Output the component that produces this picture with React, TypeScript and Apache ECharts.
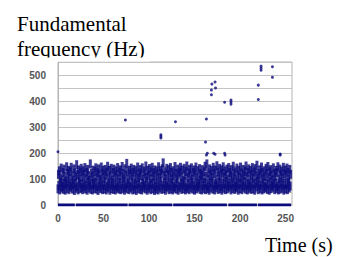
import React, { useEffect, useRef } from "react";
import * as echarts from "echarts";

const yAxisTitleLines = ["Fundamental", "frequency (Hz)"];
const xAxisTitle = "Time (s)";
const xMin = 0;
const xMax = 257;
const xInterval = 50;
const yMin = 0;
const yMax = 550;
const yInterval = 50;
const yLabelStep = 100;

// Dense voiced-pitch band (time s, F0 Hz)
const bandPoints: [number, number][] = [
  [0,62],[0.5,118],[1,75],[1.5,131],[2,58],[2.5,104],[3,88],[3.5,142],[4,66],[4.5,97],[5,71],[5.5,125],[6,60],[6.5,138],[7,84],[7.5,110],[8,57],[8.5,92],[9,79],[9.5,147],
  [10,64],[10.5,121],[11,90],[11.5,133],[12,59],[12.5,101],[13,73],[13.5,128],[14,68],[14.5,145],[15,82],[15.5,112],[16,61],[16.5,96],[17,77],[17.5,139],[18,56],[18.5,123],[19,86],[19.5,108],
  [20,65],[20.5,155],[21,72],[21.5,117],[22,58],[22.5,135],[23,91],[23.5,99],[24,63],[24.5,127],[25,80],[25.5,141],[26,67],[26.5,106],[27,59],[27.5,131],[28,85],[28.5,119],[29,70],[29.5,144],
  [30,62],[30.5,102],[31,76],[31.5,126],[32,57],[32.5,137],[33,89],[33.5,113],[34,66],[34.5,95],[35,74],[35.5,158],[36,60],[36.5,122],[37,83],[37.5,109],[38,58],[38.5,134],[39,78],[39.5,99],
  [40,64],[40.5,129],[41,87],[41.5,143],[42,61],[42.5,107],[43,72],[43.5,124],[44,56],[44.5,139],[45,81],[45.5,115],[46,69],[46.5,98],[47,63],[47.5,146],[48,86],[48.5,120],[49,59],[49.5,132],
  [50,75],[50.5,104],[51,62],[51.5,137],[52,90],[52.5,118],[53,58],[53.5,127],[54,71],[54.5,149],[55,66],[55.5,101],[56,84],[56.5,133],[57,57],[57.5,112],[58,77],[58.5,141],[59,63],[59.5,96],
  [60,88],[60.5,125],[61,60],[61.5,138],[62,73],[62.5,106],[63,58],[63.5,130],[64,82],[64.5,116],[65,65],[65.5,144],[66,70],[66.5,100],[67,61],[67.5,127],[68,86],[68.5,135],[69,59],[69.5,111],
  [70,76],[70.5,148],[71,64],[71.5,121],[72,91],[72.5,103],[73,57],[73.5,139],[74,68],[74.5,115],[75,80],[75.5,160],[76,62],[76.5,128],[77,85],[77.5,97],[78,59],[78.5,134],[79,72],[79.5,119],
  [80,66],[80.5,142],[81,89],[81.5,108],[82,58],[82.5,126],[83,74],[83.5,137],[84,61],[84.5,99],[85,83],[85.5,131],[86,56],[86.5,117],[87,78],[87.5,146],[88,64],[88.5,104],[89,87],[89.5,123],
  [90,60],[90.5,136],[91,71],[91.5,112],[92,58],[92.5,143],[93,84],[93.5,98],[94,67],[94.5,129],[95,76],[95.5,119],[96,62],[96.5,150],[97,90],[97.5,106],[98,57],[98.5,133],[99,73],[99.5,115],
  [100,65],[100.5,140],[101,82],[101.5,101],[102,59],[102.5,127],[103,79],[103.5,145],[104,63],[104.5,110],[105,88],[105.5,124],[106,56],[106.5,135],[107,70],[107.5,97],[108,61],[108.5,130],[109,85],[109.5,118],
  [110,58],[110.5,147],[111,74],[111.5,105],[112,66],[112.5,132],[113,91],[113.5,121],[114,60],[114.5,139],[115,77],[115.5,162],[116,63],[116.5,114],[117,86],[117.5,128],[118,57],[118.5,100],[119,72],[119.5,141],
  [120,68],[120.5,117],[121,83],[121.5,136],[122,59],[122.5,108],[123,75],[123.5,144],[124,62],[124.5,125],[125,89],[125.5,99],[126,58],[126.5,131],[127,71],[127.5,113],[128,65],[128.5,148],[129,80],[129.5,122],
  [130,61],[130.5,103],[131,87],[131.5,138],[132,57],[132.5,119],[133,73],[133.5,127],[134,67],[134.5,145],[135,84],[135.5,109],[136,60],[136.5,134],[137,76],[137.5,96],[138,63],[138.5,141],[139,90],[139.5,116],
  [140,58],[140.5,129],[141,70],[141.5,150],[142,64],[142.5,105],[143,82],[143.5,123],[144,59],[144.5,137],[145,77],[145.5,112],[146,66],[146.5,143],[147,88],[147.5,100],[148,61],[148.5,126],[149,74],[149.5,135],
  [150,57],[150.5,118],[151,85],[151.5,146],[152,62],[152.5,107],[153,72],[153.5,131],[154,68],[154.5,97],[155,81],[155.5,140],[156,60],[156.5,121],[157,91],[157.5,113],[158,58],[158.5,136],[159,75],[159.5,102],
  [160,64],[160.5,128],[161,86],[161.5,149],[162,59],[162.5,110],[163,78],[163.5,158],[164,63],[164.5,124],[165,70],[165.5,99],[166,57],[166.5,139],[167,84],[167.5,116],[168,66],[168.5,132],[169,89],[169.5,105],
  [170,61],[170.5,145],[171,73],[171.5,120],[172,58],[172.5,134],[173,82],[173.5,98],[174,67],[174.5,151],[175,76],[175.5,127],[176,60],[176.5,111],[177,87],[177.5,141],[178,63],[178.5,103],[179,71],[179.5,135],
  [180,57],[180.5,122],[181,85],[181.5,147],[182,65],[182.5,108],[183,79],[183.5,130],[184,59],[184.5,117],[185,90],[185.5,138],[186,62],[186.5,100],[187,74],[187.5,144],[188,68],[188.5,125],[189,83],[189.5,113],
  [190,58],[190.5,136],[191,77],[191.5,104],[192,64],[192.5,149],[193,88],[193.5,119],[194,60],[194.5,128],[195,72],[195.5,97],[196,66],[196.5,142],[197,84],[197.5,115],[198,57],[198.5,133],[199,79],[199.5,107],
  [200,63],[200.5,146],[201,86],[201.5,123],[202,59],[202.5,101],[203,74],[203.5,137],[204,68],[204.5,114],[205,91],[205.5,129],[206,61],[206.5,150],[207,76],[207.5,109],[208,58],[208.5,126],[209,82],[209.5,139],
  [210,65],[210.5,98],[211,73],[211.5,132],[212,60],[212.5,118],[213,87],[213.5,144],[214,62],[214.5,105],[215,78],[215.5,127],[216,57],[216.5,140],[217,84],[217.5,112],[218,69],[218.5,153],[219,90],[219.5,121],
  [220,59],[220.5,103],[221,75],[221.5,135],[222,64],[222.5,117],[223,81],[223.5,146],[224,58],[224.5,124],[225,88],[225.5,99],[226,62],[226.5,131],[227,71],[227.5,110],[228,66],[228.5,141],[229,85],[229.5,120],
  [230,60],[230.5,148],[231,77],[231.5,106],[232,57],[232.5,128],[233,89],[233.5,136],[234,63],[234.5,115],[235,74],[235.5,97],[236,68],[236.5,143],[237,82],[237.5,122],[238,59],[238.5,109],[239,86],[239.5,133],
  [240,64],[240.5,125],[241,72],[241.5,147],[242,58],[242.5,101],[243,80],[243.5,138],[244,61],[244.5,116],[245,87],[245.5,130],[246,65],[246.5,104],[247,76],[247.5,145],[248,57],[248.5,119],[249,83],[249.5,134],
  [250,62],[250.5,112],[251,78],[251.5,142],[252,59],[252.5,126],[253,88],[253.5,100],[254,66],[254.5,137],[255,73],[255.5,118],
];

// Isolated high estimates (octave errors etc.)
const outlierPoints: [number, number][] = [
  [0,205],[74,327],[113,258],[113,264],[113,270],[129,320],[162,242],[163,331],[163,192],[164,199],
  [168.5,424],[168.5,442],[169,465],[172.5,473],[173,450],[171,199],[172.5,195],
  [183,395],[183,199],[183.5,192],[190,388],[190,396],[190,404],
  [220,461],[220,406],[223,518],[223,526],[223,534],[235.5,532],[235.5,491],[244,196],[244,192],
];

// Unvoiced frames at 0 Hz: runs of time [start, end]
const zeroRuns: [number, number][] = [
  [0, 18.5], [19.5, 76.5], [77.5, 125.5], [126.5, 185.5], [187, 218.5], [219.5, 256],
];

const dotColor = "#0b0b7c";

export default function App() {
  const ref = useRef<HTMLDivElement | null>(null);

  useEffect(() => {
    if (!ref.current) return;
    const chart = echarts.init(ref.current, undefined, { renderer: "svg" });

    const zeroData: any[] = [];
    zeroRuns.forEach(([s, e], i) => {
      if (i > 0) zeroData.push([s, "-"]);
      zeroData.push([s, 0]);
      zeroData.push([e, 0]);
    });

    const serif = "'Liberation Serif', 'Times New Roman', serif";

    chart.setOption({
      animation: false,
      backgroundColor: "#ffffff",
      grid: {
        left: 58,
        right: 47,
        top: 62,
        bottom: 52,
        show: true,
        borderColor: "#b4b4b4",
        borderWidth: 1,
        backgroundColor: "transparent",
      },
      xAxis: {
        type: "value",
        min: xMin,
        max: xMax,
        interval: xInterval,
        axisLine: { show: true, lineStyle: { color: "#b4b4b4" } },
        axisTick: { show: false },
        splitLine: { show: false },
        axisLabel: {
          show: true,
          showMaxLabel: false,
          margin: 8,
          color: "#555",
          fontSize: 10,
          fontFamily: "'Liberation Sans', Arial, sans-serif",
          fontWeight: "bold",
        },
      },
      yAxis: {
        type: "value",
        min: yMin,
        max: yMax,
        interval: yInterval,
        axisLine: { show: true, lineStyle: { color: "#b4b4b4" } },
        axisTick: { show: false },
        splitLine: { show: true, lineStyle: { color: "#c4c4c4", width: 1 } },
        axisLabel: {
          margin: 12,
          color: "#555",
          fontSize: 10,
          fontFamily: "'Liberation Sans', Arial, sans-serif",
          fontWeight: "bold",
          formatter: (v: number) => (v % yLabelStep === 0 && v < yMax ? String(v) : ""),
        },
      },
      series: [
        {
          type: "line",
          data: zeroData,
          showSymbol: false,
          connectNulls: false,
          lineStyle: { color: dotColor, width: 3 },
          z: 3,
        },
        {
          type: "scatter",
          data: bandPoints,
          symbol: "rect",
          symbolSize: [3, 9],
          itemStyle: { color: dotColor },
          z: 4,
        },
        {
          type: "scatter",
          data: outlierPoints,
          symbol: "circle",
          symbolSize: 3,
          itemStyle: { color: dotColor },
          z: 4,
        },
      ],
      graphic: [
        {
          type: "text",
          x: 17,
          y: 24.3,
          scaleX: 1.05,
          style: {
            text: yAxisTitleLines[0],
            font: `20px ${serif}`,
            fill: "#000",
            align: "left",
            verticalAlign: "middle",
          },
        },
        {
          type: "text",
          x: 17,
          y: 49,
          scaleX: 1.05,
          style: {
            text: yAxisTitleLines[1],
            font: `20px ${serif}`,
            fill: "#000",
            align: "left",
            verticalAlign: "middle",
          },
        },
        {
          type: "rect",
          shape: { x: 10, y: 57.5, width: 140, height: 4 },
          style: { fill: "#ffffff" },
          z: 100,
        },
        {
          type: "text",
          x: 265,
          y: 245,
          style: {
            text: xAxisTitle,
            font: `20px ${serif}`,
            fill: "#000",
            align: "left",
            verticalAlign: "middle",
          },
        },
      ],
    });

    return () => chart.dispose();
  }, []);

  return (
    <div
      ref={ref}
      style={{ position: "fixed", left: 0, top: 0, width: 339, height: 257, background: "#fff" }}
    />
  );
}
